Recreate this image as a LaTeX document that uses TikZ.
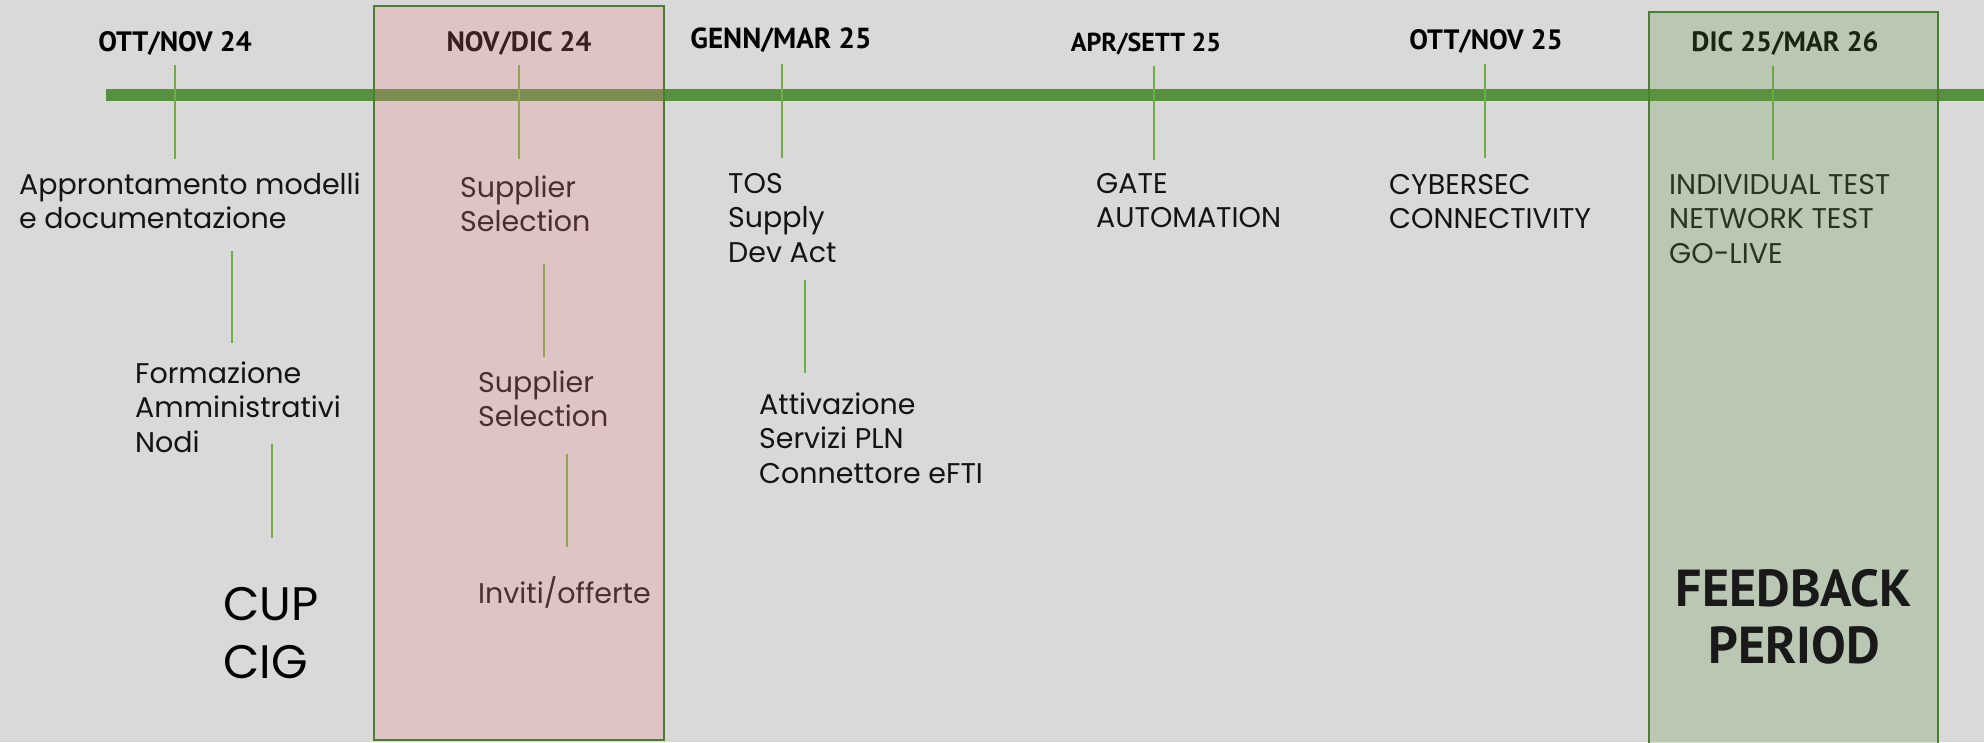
\documentclass[tikz,border=0pt]{standalone}
\usepackage{fontspec}
\setmainfont{Poppins}
\newfontfamily\hdfont{PT Sans}
\newcommand\tl[1]{\begin{tabular}[t]{@{}l@{}}#1\end{tabular}}
\newcommand\tc[1]{\begin{tabular}[t]{@{}c@{}}#1\end{tabular}}
\definecolor{bg}{HTML}{D9D9D9}
\definecolor{barc}{RGB}{87,144,62}
\definecolor{tickc}{RGB}{112,173,71}
\definecolor{boxline}{RGB}{76,125,50}
\definecolor{pinkfill}{RGB}{246,133,137}
\definecolor{greenfill}{RGB}{100,152,72}
\tikzset{
  hdr/.style={font=\hdfont\bfseries\fontsize{28}{32}\selectfont, inner sep=0pt, anchor=base, text=black},
  body/.style={font=\fontsize{28.5}{34.5}\selectfont, inner sep=0pt, anchor=base west, text=black!92},
  big/.style={font=\fontsize{47}{58}\selectfont, inner sep=0pt, anchor=base west, text=black},
  fb/.style={font=\hdfont\bfseries\fontsize{52}{57}\selectfont, inner sep=0pt, anchor=base, text=black!90},
  tk/.style={draw=tickc, line width=1.4pt},
  period/.style={draw=boxline, line width=2.6pt, fill opacity=0.24},
}
\begin{document}
\begin{tikzpicture}[x=1pt,y=-1pt]
\fill[bg] (0,0) rectangle (1984,742);
\useasboundingbox (0,0) rectangle (1984,742);
% timeline bar
\coordinate (barL) at (106,95);
\coordinate (barR) at (1984,95);
\draw[barc, line width=12pt] (barL) -- (barR);
% headers
\node[hdr] (h1) at (175,51) {OTT/NOV 24};
\node[hdr] (h2) at (519,51) {NOV/DIC 24};
\node[hdr, font=\hdfont\bfseries\fontsize{29}{32}\selectfont] (h3) at (781,48) {GENN/MAR 25};
\node[hdr, font=\hdfont\bfseries\fontsize{26}{32}\selectfont] (h4) at (1146,51) {APR/SETT 25};
\node[hdr] (h5) at (1486,49) {OTT/NOV 25};
\node[hdr] (h6) at (1785,51) {DIC 25/MAR 26};
% ticks
\coordinate (k1a) at (175,65);  \coordinate (k1b) at (175,159);
\coordinate (k2a) at (519,65);  \coordinate (k2b) at (519,159);
\coordinate (k3a) at (782,64);  \coordinate (k3b) at (782,158);
\coordinate (k4a) at (1154,66); \coordinate (k4b) at (1154,160);
\coordinate (k5a) at (1485,64); \coordinate (k5b) at (1485,158);
\coordinate (k6a) at (1773,66); \coordinate (k6b) at (1773,160);
\foreach \i in {1,...,6} { \draw[tk] (k\i a) -- (k\i b); }
% texts
\node[body] (t1) at (19,194) {\tl{Approntamento modelli\\e documentazione}};
\node[body] (t2) at (135,383) {\tl{Formazione\\Amministrativi\\Nodi}};
\node[big]  (t3) at (223,620) {\tl{CUP\\CIG}};
\node[body] (s1) at (460,197) {\tl{Supplier\\Selection}};
\node[body] (s2) at (478,392) {\tl{Supplier\\Selection}};
\node[body] (s3) at (478,603) {Inviti/offerte};
\node[body] (g1) at (728,193) {\tl{TOS\\Supply\\Dev Act}};
\node[body] (g2) at (759,414) {\tl{Attivazione\\Servizi PLN\\Connettore eFTI}};
\node[body] (a1) at (1096,193) {\tl{GATE\\AUTOMATION}};
\node[body] (o1) at (1389,194) {\tl{CYBERSEC\\CONNECTIVITY}};
\node[body] (d1) at (1669,194) {\tl{INDIVIDUAL TEST\\NETWORK TEST\\GO-LIVE}};
% secondary connectors
\coordinate (c1a) at (232,251); \coordinate (c1b) at (232,343);
\coordinate (c2a) at (272,444); \coordinate (c2b) at (272,538);
\coordinate (c3a) at (544,264); \coordinate (c3b) at (544,357);
\coordinate (c4a) at (567,454); \coordinate (c4b) at (567,547);
\coordinate (c5a) at (805,280); \coordinate (c5b) at (805,373);
\foreach \i in {1,...,5} { \draw[tk] (c\i a) -- (c\i b); }
% period boxes (overlays)
\coordinate (pA) at (374,6);   \coordinate (pB) at (664,740);
\coordinate (qA) at (1649,12); \coordinate (qB) at (1938,760);
\draw[period, fill=pinkfill] (pA) rectangle (pB);
\draw[period, fill=greenfill, fill opacity=0.26] (qA) rectangle (qB);
\node[fb] (fb) at (1794,606) {\tc{FEEDBACK\\PERIOD}};
\end{tikzpicture}
\end{document}
